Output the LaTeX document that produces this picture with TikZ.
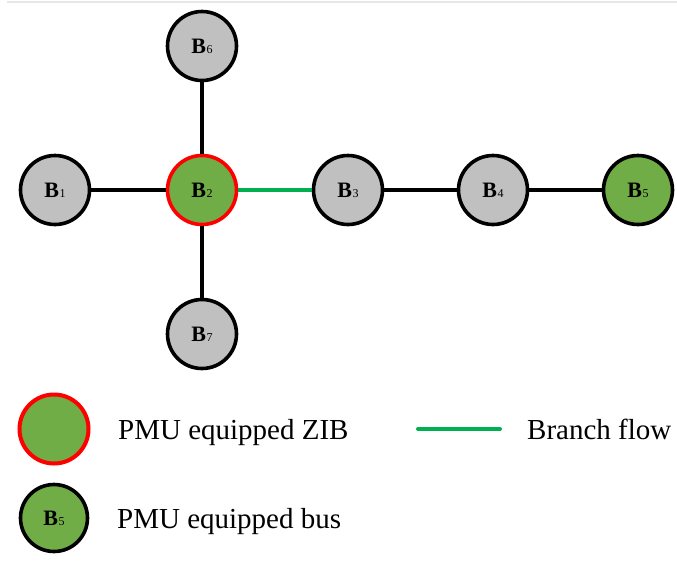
\documentclass[tikz,border=0pt]{standalone}
\usepackage{fontspec}
\setmainfont{Liberation Serif}
\definecolor{busgray}{RGB}{192,192,192}
\definecolor{pmugreen}{RGB}{112,173,71}
\definecolor{flowgreen}{RGB}{0,176,80}
\definecolor{zibred}{RGB}{255,0,0}
\definecolor{rulegray}{RGB}{230,230,230}
\newcommand{\busl}[1]{{\fontsize{22}{22}\selectfont\bfseries B}\kern0.8pt{\fontsize{12}{12}\selectfont #1}}
\begin{document}
\begin{tikzpicture}[x=1pt,y=-1pt,
  bus/.style={circle,draw=black,line width=3.6pt,minimum size=69pt,inner sep=0pt,fill=busgray},
  pmubus/.style={bus,fill=pmugreen},
  zib/.style={bus,fill=pmugreen,draw=zibred},
  link/.style={line width=3.4pt,black},
  flow/.style={line width=4pt,flowgreen},
  legtext/.style={anchor=base west,inner sep=0pt,font=\fontsize{29}{29}\selectfont}]
\useasboundingbox (0,0) rectangle (677,560);
\coordinate (r1) at (7,2);
\coordinate (r2) at (677,2);
\draw[rulegray,line width=2pt] (r1) -- (r2);
% buses
\node[bus] (B1) at (55,190) {\busl{1}};
\node[zib] (B2) at (202,190) {\busl{2}};
\node[bus] (B3) at (348,190) {\busl{3}};
\node[bus] (B4) at (493,190) {\busl{4}};
\node[pmubus] (B5) at (638,190) {\busl{5}};
\node[bus] (B6) at (202,46) {\busl{6}};
\node[bus] (B7) at (202,334) {\busl{7}};
% lines
\draw[link] (B1) -- (B2);
\draw[link] (B6) -- (B2);
\draw[link] (B7) -- (B2);
\draw[flow] (B2) -- (B3);
\draw[link] (B3) -- (B4);
\draw[link] (B4) -- (B5);
% legend
\node[zib,line width=4pt] (LZ) at (54,429) {};
\node[legtext] (LZt) at (118,439) {PMU equipped ZIB};
\coordinate (LF1) at (418,429);
\coordinate (LF2) at (500,429);
\draw[flow,line cap=round] (LF1) -- (LF2);
\node[legtext] (LFt) at (527,439) {Branch flow};
\node[pmubus,minimum size=67pt] (LB) at (54,518) {\busl{5}};
\node[legtext] (LBt) at (117,528) {PMU equipped bus};
\end{tikzpicture}
\end{document}
